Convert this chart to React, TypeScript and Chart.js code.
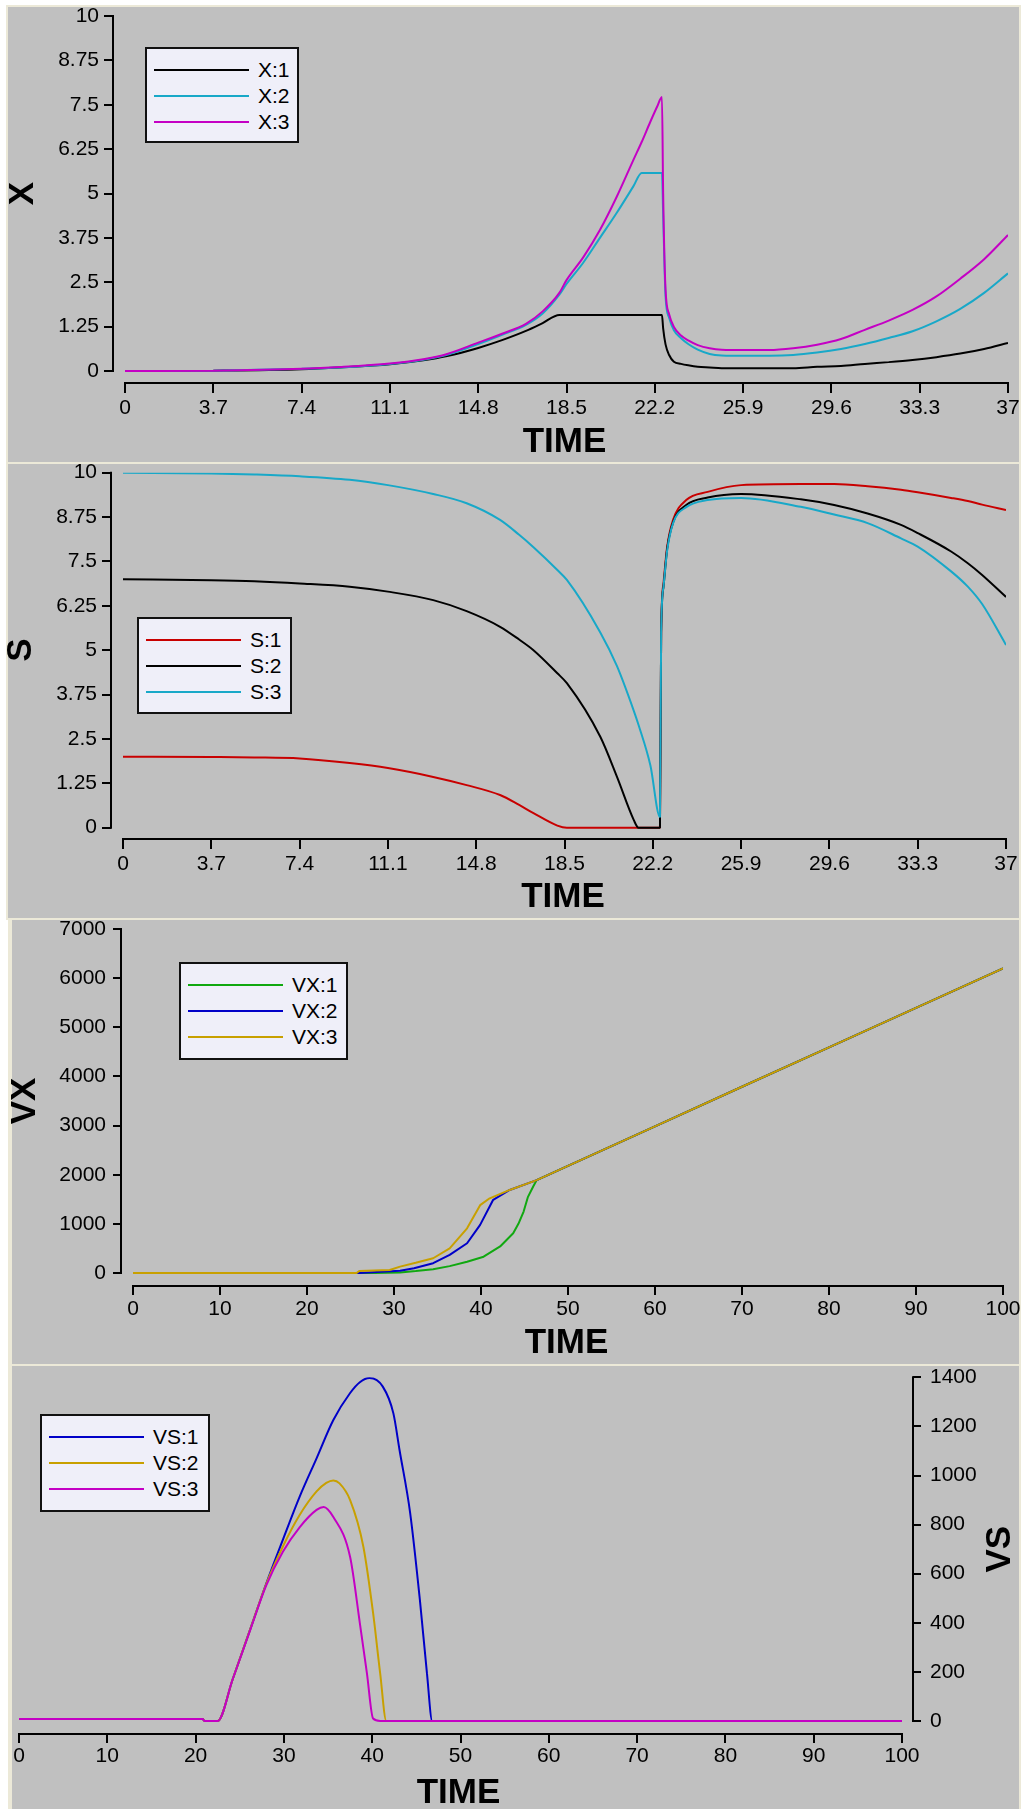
import { useEffect, useRef } from 'react';
import { Chart, registerables } from 'chart.js';

Chart.register(...registerables);

const FAMILY = '"Liberation Sans", Arial, Helvetica, sans-serif';
const TITLE_FONT = `bold 35px ${FAMILY}`;
const PAGE_W = 1022;

// ---------------- Panel 1 : X ----------------
const X_TIME = [0, 3.7, 7.4, 9, 11.1, 12.5, 13.5, 14.8, 15.8, 16.8, 17.5, 18.2, 18.5, 19.2, 19.9, 20.6, 21.3, 21.65, 22.0, 22.3, 22.5, 22.55, 22.65, 22.8, 23.0, 23.3, 23.6, 24.0, 24.5, 25, 26, 27, 28, 29, 30, 31, 32, 33, 34, 35, 36, 37];
const X_1 = [0, 0.01, 0.05, 0.1, 0.19, 0.3, 0.42, 0.65, 0.87, 1.13, 1.35, 1.58, 1.58, 1.58, 1.58, 1.58, 1.58, 1.58, 1.58, 1.58, 1.58, 1.2, 0.75, 0.45, 0.26, 0.2, 0.16, 0.12, 0.1, 0.08, 0.08, 0.08, 0.08, 0.12, 0.14, 0.2, 0.25, 0.31, 0.39, 0.49, 0.62, 0.79];
const X_2 = [0, 0.01, 0.06, 0.1, 0.2, 0.32, 0.46, 0.76, 1.02, 1.3, 1.62, 2.15, 2.45, 3.05, 3.75, 4.45, 5.2, 5.58, 5.58, 5.58, 5.58, 4.4, 2.1, 1.5, 1.15, 0.92, 0.76, 0.6, 0.48, 0.44, 0.43, 0.43, 0.45, 0.52, 0.62, 0.76, 0.93, 1.12, 1.4, 1.75, 2.2, 2.75];
const X_3 = [0, 0.01, 0.06, 0.11, 0.21, 0.33, 0.48, 0.8, 1.05, 1.33, 1.68, 2.2, 2.56, 3.2, 3.97, 4.9, 5.94, 6.45, 7.0, 7.45, 7.72, 5.0, 2.3, 1.6, 1.24, 1.0, 0.86, 0.73, 0.64, 0.6, 0.59, 0.59, 0.64, 0.74, 0.9, 1.16, 1.42, 1.72, 2.1, 2.6, 3.15, 3.83];

// ---------------- Panel 2 : S ----------------
const S_TIME = [0, 3.7, 5.5, 7.4, 9.5, 11.1, 13, 14.4, 15.8, 16.6, 17.2, 18.2, 18.6, 20, 20.7, 21.4, 21.6, 22.1, 22.5, 22.55, 22.65, 22.8, 23.05, 23.6, 24.5, 25.9, 28.4, 29.8, 31.2, 32.6, 33.3, 34.7, 35.4, 36, 37];
const S_1 = [2.0, 1.99, 1.98, 1.95, 1.82, 1.68, 1.43, 1.2, 0.92, 0.64, 0.41, 0.06, 0, 0, 0, 0, 0, 0, 0, 5.5, 6.9, 7.9, 8.67, 9.23, 9.46, 9.65, 9.68, 9.68, 9.62, 9.52, 9.45, 9.29, 9.2, 9.1, 8.95];
const S_2 = [7.0, 6.97, 6.94, 6.88, 6.79, 6.65, 6.41, 6.1, 5.66, 5.3, 5.0, 4.35, 4.07, 2.56, 1.43, 0.22, 0, 0, 0, 5.5, 6.8, 7.85, 8.6, 9.09, 9.3, 9.4, 9.25, 9.09, 8.85, 8.53, 8.3, 7.78, 7.45, 7.12, 6.5];
const S_3 = [10, 9.98, 9.95, 9.9, 9.8, 9.65, 9.4, 9.14, 8.67, 8.25, 7.9, 7.26, 6.98, 5.5, 4.55, 3.3, 2.9, 1.75, 0.3, 5.5, 6.8, 7.8, 8.58, 9.03, 9.23, 9.29, 9.04, 8.82, 8.58, 8.15, 7.92, 7.22, 6.79, 6.3, 5.15];

// ---------------- Panel 3 : VX ----------------
const VX1_TIME = [0, 27.8, 30.7, 32.5, 34.5, 36.4, 38.4, 40.3, 42.2, 43.7, 44.3, 44.9, 45.4, 46, 46.4, 50, 60, 70, 80, 90, 100];
const VX_1 = [0, 0, 10, 40, 75, 140, 230, 332, 540, 810, 1000, 1250, 1550, 1760, 1890, 2180, 2985, 3790, 4590, 5395, 6200];
const VX2_TIME = [0, 26, 28, 30.7, 32.3, 34.5, 36.4, 38.4, 39.9, 41.4, 43.3, 46.4, 50, 60, 70, 80, 90, 100];
const VX_2 = [0, 0, 20, 45, 95, 200, 370, 605, 980, 1490, 1690, 1890, 2180, 2985, 3790, 4590, 5395, 6200];
const VX3_TIME = [0, 25.7, 26, 29.5, 30.7, 32.5, 34.5, 36.4, 38.4, 39.9, 41, 43.3, 46.4, 50, 60, 70, 80, 90, 100];
const VX_3 = [0, 0, 40, 60, 130, 210, 300, 500, 910, 1380, 1520, 1690, 1890, 2180, 2985, 3790, 4590, 5395, 6200];

// ---------------- Panel 4 : VS ----------------
const VS1_TIME = [0, 20.8, 21, 22.5, 24.2, 26.2, 28, 29.9, 31.8, 33.7, 35.6, 37.5, 38.6, 39.7, 41.2, 42.4, 43.1, 44.3, 45.4, 46.2, 46.8, 100];
const VS_1 = [8, 8, 0, 0, 170, 375, 560, 740, 915, 1070, 1226, 1336, 1380, 1397, 1362, 1253, 1103, 847, 493, 195, 0, 0];
const VS2_TIME = [0, 20.8, 21, 22.5, 24.2, 26.2, 28, 29.9, 31.8, 33.7, 34.8, 35.6, 36.3, 37.5, 39, 40.1, 40.9, 41.6, 100];
const VS_2 = [8, 8, 0, 0, 170, 375, 558, 712, 840, 935, 970, 980, 968, 900, 710, 440, 195, 0, 0];
const VS3_TIME = [0, 20.8, 21, 22.5, 24.2, 26.2, 28, 29.9, 31.8, 33.7, 34.5, 35.6, 37.5, 38.6, 39.4, 40.1, 40.9, 100];
const VS_3 = [8, 8, 0, 0, 170, 372, 552, 690, 790, 860, 872, 831, 668, 399, 195, 10, 0, 0];

// ---------------- tick labels ----------------
const TIME_TICKS_37 = [0, 3.7, 7.4, 11.1, 14.8, 18.5, 22.2, 25.9, 29.6, 33.3, 37];
const TIME_TICKS_100 = [0, 10, 20, 30, 40, 50, 60, 70, 80, 90, 100];
const TICKS_10 = [0, 1.25, 2.5, 3.75, 5, 6.25, 7.5, 8.75, 10];
const TICKS_7000 = [0, 1000, 2000, 3000, 4000, 5000, 6000, 7000];
const TICKS_1400 = [0, 200, 400, 600, 800, 1000, 1200, 1400];

// ---------------- colours ----------------
const BLACK = '#000000';
const CYAN = '#18a8c8';
const MAGENTA = '#c400c4';
const RED = '#c80000';
const GREEN = '#10a810';
const BLUE = '#0000c8';
const GOLD = '#c8a000';

type Series = { label: string; color: string; t: number[]; v: number[] };

const PANELS: any[] = [
  {
    box: { left: 6, top: 5, width: 1015, height: 459, bl: 2 },
    canvasTop: 0, canvasHeight: 464,
    area: { left: 113, right: 1008, top: 16, bottom: 383 },
    xFrom: 0, xTo: 37, xFromPx: 125, xToPx: 1008,
    yFrom: 0, yTo: 10, yFromPx: 371, yToPx: 16,
    xTicks: TIME_TICKS_37, yTicks: TICKS_10, yRight: false, smooth: true,
    xTickLen: 10, xTickPad: 2.5, yTickLen: 9, yTickPad: 5,
    xTitle: 'TIME', xTitleDy: 59, xTitleShift: -2,
    yTitle: 'X', yTitleX: 23.5,
    series: [
      { label: 'X:1', color: BLACK, t: X_TIME, v: X_1 },
      { label: 'X:2', color: CYAN, t: X_TIME, v: X_2 },
      { label: 'X:3', color: MAGENTA, t: X_TIME, v: X_3 },
    ] as Series[],
    legend: { left: 145, top: 47, width: 154, height: 96 },
  },
  {
    box: { left: 6, top: 462, width: 1015, height: 458, bl: 2 },
    canvasTop: 464, canvasHeight: 456,
    area: { left: 111, right: 1006, top: 8.7, bottom: 375 },
    xFrom: 0, xTo: 37, xFromPx: 123, xToPx: 1006,
    yFrom: 0, yTo: 10, yFromPx: 363.7, yToPx: 8.7,
    xTicks: TIME_TICKS_37, yTicks: TICKS_10, yRight: false, smooth: true,
    xTickLen: 10, xTickPad: 3, yTickLen: 9, yTickPad: 5,
    xTitle: 'TIME', xTitleDy: 58.5, xTitleShift: -1.5,
    yTitle: 'S', yTitleX: 21,
    series: [
      { label: 'S:1', color: RED, t: S_TIME, v: S_1 },
      { label: 'S:2', color: BLACK, t: S_TIME, v: S_2 },
      { label: 'S:3', color: CYAN, t: S_TIME, v: S_3 },
    ] as Series[],
    legend: { left: 137, top: 617, width: 155, height: 97 },
  },
  {
    box: { left: 8, top: 918, width: 1013, height: 449, bl: 4 },
    canvasTop: 920, canvasHeight: 446,
    area: { left: 121, right: 1003, top: 9, bottom: 366 },
    xFrom: 0, xTo: 100, xFromPx: 133, xToPx: 1003,
    yFrom: 0, yTo: 7000, yFromPx: 353, yToPx: 9,
    xTicks: TIME_TICKS_100, yTicks: TICKS_7000, yRight: false, smooth: false,
    xTickLen: 9, xTickPad: 2, yTickLen: 8, yTickPad: 7,
    xTitle: 'TIME', xTitleDy: 57, xTitleShift: -1.5,
    yTitle: 'VX', yTitleX: 25,
    series: [
      { label: 'VX:1', color: GREEN, t: VX1_TIME, v: VX_1 },
      { label: 'VX:2', color: BLUE, t: VX2_TIME, v: VX_2 },
      { label: 'VX:3', color: GOLD, t: VX3_TIME, v: VX_3 },
    ] as Series[],
    legend: { left: 179, top: 962, width: 169, height: 98 },
  },
  {
    box: { left: 8, top: 1364, width: 1013, height: 470, bl: 4 },
    canvasTop: 1366, canvasHeight: 460,
    area: { left: 19, right: 913, top: 11.3, bottom: 368 },
    xFrom: 0, xTo: 100, xFromPx: 19, xToPx: 902,
    yFrom: 0, yTo: 1400, yFromPx: 355, yToPx: 11.3,
    xTicks: TIME_TICKS_100, yTicks: TICKS_1400, yRight: true, smooth: true,
    xTickLen: 9, xTickPad: 1, yTickLen: 8, yTickPad: 9,
    xTitle: 'TIME', xTitleDy: 59, xTitleShift: -2,
    yTitle: 'VS', yTitleX: 1000,
    series: [
      { label: 'VS:1', color: BLUE, t: VS1_TIME, v: VS_1 },
      { label: 'VS:2', color: GOLD, t: VS2_TIME, v: VS_2 },
      { label: 'VS:3', color: MAGENTA, t: VS3_TIME, v: VS_3 },
    ] as Series[],
    legend: { left: 40, top: 1414, width: 170, height: 98 },
  },
];

function PanelChart({ spec }: { spec: any }) {
  const ref = useRef<HTMLCanvasElement>(null);
  useEffect(() => {
    const canvas = ref.current;
    if (!canvas) return;
    const a = spec.area;
    const W = PAGE_W;
    const H = spec.canvasHeight;
    const xppu = (spec.xToPx - spec.xFromPx) / (spec.xTo - spec.xFrom);
    const yppu = (spec.yFromPx - spec.yToPx) / (spec.yTo - spec.yFrom);
    const xMin = spec.xFrom - (spec.xFromPx - a.left) / xppu;
    const xMax = spec.xTo + (a.right - spec.xToPx) / xppu;
    const yMin = spec.yFrom - (a.bottom - spec.yFromPx) / yppu;
    const yMax = spec.yTo + (spec.yToPx - a.top) / yppu;
    const yAxisW = spec.yRight ? W - a.right : a.left;
    const xAxisH = H - a.bottom;

    const frame = {
      id: 'frame',
      afterDraw(chart: any) {
        const { ctx, chartArea: ca, scales } = chart;
        const xs = scales.x;
        const ys = scales.y;
        const xa = xs.getPixelForValue(spec.xFrom);
        const xb = xs.getPixelForValue(spec.xTo);
        const ya = ys.getPixelForValue(spec.yFrom);
        const yb = ys.getPixelForValue(spec.yTo);
        const yx = spec.yRight ? ca.right : ca.left;
        ctx.save();
        ctx.strokeStyle = '#000';
        ctx.lineWidth = 2;
        ctx.beginPath();
        ctx.moveTo(xa - 1, ca.bottom);
        ctx.lineTo(xb + 1, ca.bottom);
        ctx.moveTo(yx, yb - 1);
        ctx.lineTo(yx, ya + 1);
        ctx.stroke();
        ctx.fillStyle = '#000';
        ctx.font = TITLE_FONT;
        ctx.textAlign = 'center';
        ctx.textBaseline = 'middle';
        ctx.fillText(spec.xTitle, (xa + xb) / 2 + spec.xTitleShift, ca.bottom + spec.xTitleDy);
        ctx.translate(spec.yTitleX, (ya + yb) / 2);
        ctx.rotate(-Math.PI / 2);
        ctx.fillText(spec.yTitle, 0, 0);
        ctx.restore();
      },
    };

    const tickFont = { family: FAMILY, size: 21 };
    const zeroPad = (sc: any) => {
      sc.paddingLeft = 0;
      sc.paddingRight = 0;
      sc.paddingTop = 0;
      sc.paddingBottom = 0;
    };

    const chart = new Chart(canvas, {
      type: 'line',
      data: {
        datasets: spec.series.map((s: Series, i: number) => ({
          label: s.label,
          data: s.t.map((t, k) => ({ x: t, y: s.v[k] })),
          borderColor: s.color,
          backgroundColor: s.color,
          borderWidth: 2,
          pointRadius: 0,
          pointHoverRadius: 0,
          tension: 0,
          cubicInterpolationMode: spec.smooth ? 'monotone' : 'default',
          fill: false,
          borderJoinStyle: 'bevel',
          order: spec.series.length - i,
        })),
      },
      options: {
        responsive: false,
        animation: false,
        devicePixelRatio: 1,
        events: [],
        layout: {
          padding: {
            left: spec.yRight ? a.left : 0,
            right: spec.yRight ? 0 : W - a.right,
            top: a.top,
            bottom: 0,
          },
        },
        plugins: { legend: { display: false }, tooltip: { enabled: false } },
        scales: {
          x: {
            type: 'linear',
            min: xMin,
            max: xMax,
            bounds: 'data',
            afterBuildTicks: (sc: any) => {
              sc.ticks = spec.xTicks.map((v: number) => ({ value: v }));
            },
            afterFit: (sc: any) => {
              sc.height = xAxisH;
              zeroPad(sc);
            },
            grid: { display: true, drawOnChartArea: false, drawTicks: true, tickLength: spec.xTickLen, color: '#000', lineWidth: 2 },
            border: { display: false },
            ticks: {
              color: '#000',
              font: tickFont,
              padding: spec.xTickPad,
              maxRotation: 0,
              minRotation: 0,
              autoSkip: false,
              callback: (v: any) => String(v),
            },
          },
          y: {
            type: 'linear',
            position: spec.yRight ? 'right' : 'left',
            min: yMin,
            max: yMax,
            bounds: 'data',
            afterBuildTicks: (sc: any) => {
              sc.ticks = spec.yTicks.map((v: number) => ({ value: v }));
            },
            afterFit: (sc: any) => {
              sc.width = yAxisW;
              zeroPad(sc);
            },
            grid: { display: true, drawOnChartArea: false, drawTicks: true, tickLength: spec.yTickLen, color: '#000', lineWidth: 2 },
            border: { display: false },
            ticks: {
              color: '#000',
              font: tickFont,
              padding: spec.yTickPad,
              autoSkip: false,
              callback: (v: any) => String(v),
            },
          },
        },
      } as any,
      plugins: [frame],
    });
    return () => chart.destroy();
  }, [spec]);
  return (
    <canvas
      ref={ref}
      width={PAGE_W}
      height={spec.canvasHeight}
      style={{ position: 'absolute', left: 0, top: spec.canvasTop, width: PAGE_W, height: spec.canvasHeight }}
    />
  );
}

function Legend({ spec }: { spec: any }) {
  const L = spec.legend;
  return (
    <div
      style={{
        position: 'absolute',
        left: L.left,
        top: L.top,
        width: L.width,
        height: L.height,
        boxSizing: 'border-box',
        border: '2px solid #111',
        background: '#efeff9',
      }}
    >
      {spec.series.map((s: Series, i: number) => (
        <div key={s.label}>
          <div
            style={{
              position: 'absolute',
              left: 7,
              top: 20.5 + i * 26 - 1,
              width: 95,
              height: 2,
              background: s.color,
            }}
          />
          <div
            style={{
              position: 'absolute',
              left: 111,
              top: 20.5 + i * 26 - 13,
              height: 26,
              lineHeight: '26px',
              fontFamily: FAMILY,
              fontSize: 21,
              color: '#000',
              whiteSpace: 'nowrap',
            }}
          >
            {s.label}
          </div>
        </div>
      ))}
    </div>
  );
}

export default function App() {
  return (
    <div
      style={{
        position: 'absolute',
        left: 0,
        top: 0,
        width: PAGE_W,
        height: 1809,
        overflow: 'hidden',
        background: '#ffffff',
      }}
    >
      {PANELS.map((p, i) => (
        <div
          key={'box' + i}
          style={{
            position: 'absolute',
            left: p.box.left,
            top: p.box.top,
            width: p.box.width,
            height: p.box.height,
            boxSizing: 'border-box',
            background: '#c0c0c0',
            border: '2px solid #ece9d8',
            borderLeftWidth: p.box.bl,
          }}
        />
      ))}
      {PANELS.map((p, i) => (
        <PanelChart key={'chart' + i} spec={p} />
      ))}
      {PANELS.map((p, i) => (
        <Legend key={'legend' + i} spec={p} />
      ))}
    </div>
  );
}
